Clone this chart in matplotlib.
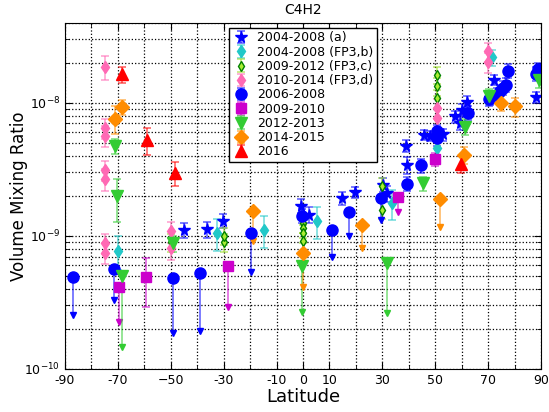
import matplotlib
matplotlib.use("Agg")
import matplotlib.pyplot as plt
from matplotlib.colors import to_rgba

# ---- data (latitude in deg, volume mixing ratio) ----

# 2004-2008 (a)
lat_a = [-45.0, -36.3, -30.1, -0.7, 2.3, 14.6, 19.7, 30.4, 31.7, 39.0, 39.5,
         45.9, 48.0, 52.9, 57.5, 59.4, 60.0, 61.9, 70.7, 72.4, 88.0]
vmr_a = [1.11e-9, 1.12e-9, 1.30e-9, 1.68e-9, 1.44e-9, 1.92e-9, 2.12e-9, 2.42e-9,
         2.09e-9, 4.75e-9, 3.42e-9, 5.74e-9, 5.65e-9, 5.8e-9, 7.9e-9, 7.0e-9,
         8.86e-9, 1.02e-8, 1.08e-8, 1.49e-8, 1.1e-8]
err_a = [0.15e-9, 0.15e-9, 0.15e-9, 0.2e-9, 0.2e-9, 0.2e-9, 0.2e-9, 0.3e-9,
         0.3e-9, 0.5e-9, 0.5e-9, 0.5e-9, 0.5e-9, 0.6e-9, 0.8e-9, 0.8e-9,
         0.9e-9, 1.1e-9, 1.2e-9, 1.4e-9, 1.1e-9]

# 2004-2008 (FP3,b)
lat_b = [-69.8, -32.6, -14.7, 5.2, 33.5, 50.5, 71.4]
vmr_b = [7.75e-10, 1.05e-9, 1.11e-9, 1.30e-9, 1.76e-9, 4.6e-9, 2.2e-8]
err_b = [2.2e-10, 2.8e-10, 3.0e-10, 3.5e-10, 4.5e-10, 1.0e-9, 3.0e-9]

# 2009-2012 (FP3,c)
lat_c = [-50.0, -30.0, -30.0, 0.0, 0.0, 0.0, 0.0, 30.0, 30.0, 50.5, 50.5, 50.5]
vmr_c = [9.0e-10, 9.0e-10, 1.0e-9, 1.24e-9, 1.14e-9, 1.05e-9, 9.1e-10,
         2.38e-9, 1.57e-9, 1.62e-8, 1.33e-8, 1.08e-8]
err_c = [1.4e-10, 1.4e-10, 1.5e-10, 1.8e-10, 1.7e-10, 1.6e-10, 1.4e-10,
         3.5e-10, 2.4e-10, 2.4e-9, 2.0e-9, 1.6e-9]

# 2010-2014 (FP3,d)
lat_d = [-75.0, -75.0, -75.0, -75.0, -75.0, -75.0, -75.0, -50.0, -50.0,
         50.5, 50.5, 70.0, 70.0]
vmr_d = [1.87e-8, 6.45e-9, 5.65e-9, 3.13e-9, 2.67e-9, 8.8e-10, 7.5e-10,
         1.08e-9, 8.1e-10, 9.1e-9, 7.7e-9, 2.43e-8, 2.01e-8]
err_d = [3.8e-9, 1.1e-9, 1.0e-9, 5.5e-10, 5.0e-10, 1.5e-10, 1.3e-10,
         2.0e-10, 1.5e-10, 1.5e-9, 1.3e-9, 4.0e-9, 3.4e-9]

# 2006-2008 measured / upper limits
lat_e = [-0.5, 39.5, 44.6, 50.8, 50.5, 62.5, 70.5, 73.5, 74.5, 75.5, 76.8,
         77.4, 88.1, 89.0]
vmr_e = [1.41e-9, 2.46e-9, 3.38e-9, 5.4e-9, 6.1e-9, 8.4e-9, 1.07e-8, 1.15e-8,
         1.22e-8, 1.3e-8, 1.37e-8, 1.74e-8, 1.65e-8, 1.79e-8]
err_e = [1.7e-10, 3.0e-10, 4.0e-10, 6.5e-10, 7.0e-10, 1.0e-9, 1.3e-9, 1.4e-9,
         1.5e-9, 1.5e-9, 1.6e-9, 2.0e-9, 2.0e-9, 2.1e-9]
lat_e_ul = [-87.1, -71.5, -49.3, -39.0, -19.7, 10.9, 17.4, 29.4]
vmr_e_ul = [4.94e-10, 5.65e-10, 4.86e-10, 5.24e-10, 1.05e-9, 1.11e-9, 1.52e-9, 1.94e-9]
low_e_ul = [2.55e-10, 3.3e-10, 1.85e-10, 1.93e-10, 5.38e-10, 6.92e-10, 1.0e-9, 1.31e-9]

# 2009-2010
lat_f = [-59.4, 49.9]
vmr_f = [4.94e-10, 3.77e-9]
err_f_lo = [2.0e-10, 4.0e-10]
err_f_hi = [1.86e-10, 4.0e-10]
lat_f_ul = [-69.5, -28.2, 36.1]
vmr_f_ul = [4.11e-10, 5.98e-10, 1.95e-9]
low_f_ul = [2.27e-10, 2.94e-10, 1.52e-9]

# 2012-2013
lat_g = [-71.1, -70.5, -49.3, 45.3, 61.3, 70.5, 89.4]
vmr_g = [4.75e-9, 1.98e-9, 8.8e-10, 2.49e-9, 6.6e-9, 1.13e-8, 1.49e-8]
err_g = [6.0e-10, 7.0e-10, 1.2e-10, 3.0e-10, 9.0e-10, 1.5e-9, 2.0e-9]
lat_g_ul = [-68.6, -0.5, 31.9]
vmr_g_ul = [5.0e-10, 5.95e-10, 6.23e-10]
low_g_ul = [1.47e-10, 2.7e-10, 2.62e-10]

# 2014-2015
lat_h = [-68.6, -71.1, 61.0, 74.9, 80.2]
vmr_h = [9.28e-9, 7.58e-9, 4.08e-9, 9.95e-9, 9.38e-9]
err_h = [1.2e-9, 1.8e-9, 6.0e-10, 1.3e-9, 1.5e-9]
lat_h_ul = [-18.8, -0.1, 22.4, 51.8]
vmr_h_ul = [1.54e-9, 7.49e-10, 1.2e-9, 1.89e-9]
low_h_ul = [9.1e-10, 4.16e-10, 8.1e-10, 1.17e-9]

# 2016
lat_i = [-68.3, -58.9, -48.4, 59.8]
vmr_i = [1.64e-8, 5.27e-9, 2.99e-9, 3.48e-9]
err_i = [2.3e-9, 1.2e-9, 6.0e-10, 5.0e-10]

xtick_pos = [-90, -70, -50, -30, -10, 0, 10, 30, 50, 70, 90]
xtick_lab = ['-90', '-70', '\u221250', '-30', '-10', '0', '10', '30', '50', '70', '90']


fig = plt.figure(figsize=(5.49, 4.12), dpi=100)
ax = fig.add_axes([0.1184, 0.1044, 0.8670, 0.8406])


def eb(x, y, yerr, color, marker, ms, label=None, mfc=None, mec=None):
    ec = to_rgba(color, 0.6)
    return ax.errorbar(x, y, yerr=yerr, fmt=marker, color=color, ecolor=ec,
                       ms=ms, mfc=mfc or color, mec=mec or color, capsize=3,
                       elinewidth=1.2, capthick=1.2, label=label)


def limit(x, y, low, color, marker, ms, mfc=None, mec=None):
    down = [v - l for v, l in zip(y, low)]
    ax.errorbar(x, y, yerr=[down, [0] * len(y)], fmt=marker, color=color,
                ecolor=to_rgba(color, 0.6), ms=ms, mfc=mfc or color,
                mec=mec or color, capsize=0, elinewidth=1.2)
    ax.plot(x, low, 'v', color=color, ms=5, mec=color)


eb(lat_a, vmr_a, err_a, 'blue', '*', 8.5, '2004-2008 (a)')
eb(lat_b, vmr_b, err_b, '#20c8c8', 'd', 6, '2004-2008 (FP3,b)')
eb(lat_c, vmr_c, err_c, '#99dd22', 'd', 5, '2009-2012 (FP3,c)',
   mfc='#aaee33', mec='green')
eb(lat_d, vmr_d, err_d, 'hotpink', 'd', 6, '2010-2014 (FP3,d)')
eb(lat_e, vmr_e, err_e, 'blue', 'o', 8, '2006-2008')
limit(lat_e_ul, vmr_e_ul, low_e_ul, 'blue', 'o', 8)
eb(lat_f, vmr_f, [err_f_lo, err_f_hi], '#cc00cc', 's', 7, '2009-2010')
limit(lat_f_ul, vmr_f_ul, low_f_ul, '#cc00cc', 's', 7)
eb(lat_g, vmr_g, err_g, '#33cc33', 'v', 9, '2012-2013')
limit(lat_g_ul, vmr_g_ul, low_g_ul, '#33cc33', 'v', 9)
eb(lat_h, vmr_h, err_h, 'darkorange', 'D', 7, '2014-2015')
limit(lat_h_ul, vmr_h_ul, low_h_ul, 'darkorange', 'D', 7)
eb(lat_i, vmr_i, err_i, 'red', '^', 9, '2016')

ax.set_yscale('log')
ax.set_ylim(1e-10, 4e-8)
ax.set_xlim(-90, 90)
ax.set_xticks(xtick_pos)
ax.set_xticklabels(xtick_lab)
ax.set_xticks(range(-80, 90, 20), minor=True)
ax.tick_params(which='both', direction='in', top=True, right=True, labelsize=9)
ax.tick_params(which='major', length=5)
ax.tick_params(which='minor', length=3)
ax.grid(True, which='both', linestyle=':', color='black', linewidth=0.9)

ax.set_title('C4H2', fontsize=10)
ax.set_xlabel('Latitude', fontsize=13, labelpad=1)
ax.set_ylabel('Volume Mixing Ratio', fontsize=12)
ax.yaxis.set_label_coords(-0.078, 0.5)

leg = ax.legend(loc='upper center', numpoints=1, fontsize=9, handlelength=1.4,
                handletextpad=0.6, labelspacing=0.1, borderaxespad=0.4,
                borderpad=0.3, fancybox=False, framealpha=1)
leg.get_frame().set_edgecolor('black')

fig.savefig('out.png', dpi=100)
